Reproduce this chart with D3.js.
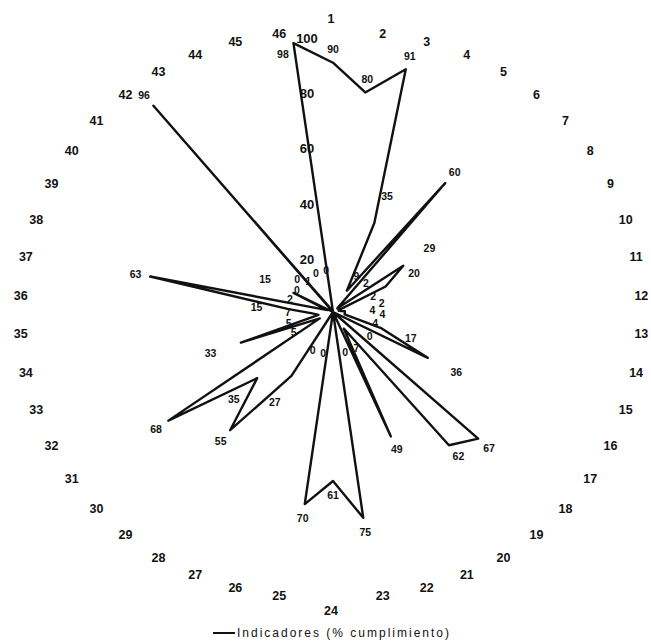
<!DOCTYPE html>
<html>
<head>
<meta charset="utf-8">
<script src="https://cdn.jsdelivr.net/npm/d3@7"></script>
<style>
  body { margin: 0; background: #fff; }
  svg { display: block; font-family: "Liberation Sans", Arial, sans-serif; }
</style>
</head>
<body>
<div id="chart"></div>
<script>
  // Categories (indicator numbers), clockwise from the top
  const categories = ['1', '2', '3', '4', '5', '6', '7', '8', '9', '10',
    '11', '12', '13', '14', '15', '16', '17', '18', '19', '20',
    '21', '22', '23', '24', '25', '26', '27', '28', '29', '30',
    '31', '32', '33', '34', '35', '36', '37', '38', '39', '40',
    '41', '42', '43', '44', '45', '46'];

  // % cumplimiento per indicator
  const values = [90, 80, 91, 35, 9, 60, 2, 29, 20, 2,
    2, 4, 4, 4, 17, 36, 0, 67, 62, 7,
    49, 0, 75, 61, 70, 0, 0, 27, 55, 35,
    68, 5, 33, 5, 7, 15, 63, 2, 15, 0,
    0, 96, 1, 0, 0, 98];

  const radialTicks = [20, 40, 60, 80, 100];
  const seriesName = 'Indicadores (% cumplimiento)';

  const width = 651, height = 643;
  const cx = 333, cy = 312;
  const stretchX = 1.07; // the scanned original is a little wider than tall

  const svg = d3.select('#chart')
    .append('svg')
    .attr('width', width)
    .attr('height', height);

  const r = d3.scaleLinear().domain([0, 100]).range([0, 277]);
  const angle = d3.scaleLinear().domain([0, categories.length]).range([0, 2 * Math.PI]);

  const px = (i, rad) => cx + stretchX * rad * Math.sin(angle(i));
  const py = (i, rad) => cy - rad * Math.cos(angle(i));

  // Series outline
  const line = d3.line()
    .x((d, i) => px(i, r(d)))
    .y((d, i) => py(i, r(d)))
    .curve(d3.curveLinearClosed);

  svg.append('path')
    .datum(values)
    .attr('d', line)
    .attr('fill', 'none')
    .attr('stroke', '#111')
    .attr('stroke-width', 2.4)
    .attr('stroke-linejoin', 'round');

  // Radial axis labels, left of the first spoke
  const tickX = cx - 26;
  const tickY = t => cy - r(t) + 3;
  svg.append('g')
    .selectAll('text')
    .data(radialTicks)
    .enter()
    .append('text')
    .attr('x', tickX)
    .attr('y', tickY)
    .attr('text-anchor', 'middle')
    .attr('dominant-baseline', 'central')
    .style('font-size', '13px')
    .style('font-weight', 'bold')
    .style('fill', '#111')
    .text(d => d);

  // Category labels round the outside (ring is flattened like the scan)
  const lcx = 331, lcy = 315, labelRx = 311, labelRy = 284;
  const labelX = i => {
    const s = Math.sin(angle(i));
    return lcx + labelRx * Math.sign(s) * Math.pow(Math.abs(s), 0.9);
  };
  const labelY = i => {
    const c = Math.cos(angle(i));
    const extra = Math.abs(c) > 0.999 ? 12 * Math.sign(c) : 0;
    return lcy - labelRy * c - extra;
  };

  svg.append('g')
    .selectAll('text')
    .data(categories)
    .enter()
    .append('text')
    .attr('x', (d, i) => labelX(i))
    .attr('y', (d, i) => labelY(i))
    .attr('text-anchor', 'middle')
    .attr('dominant-baseline', 'central')
    .style('font-size', '12.5px')
    .style('font-weight', 'bold')
    .style('fill', '#111')
    .text(d => d);

  // Value labels: preferred spot pushed outward from each point
  const labelRadius = v => v < 10 ? 42 : r(v) + (v < 40 ? 30 : 14);
  // near the top the outermost labels sit beside the point instead
  const crowded = (v, i) => labelRadius(v) > 270 && Math.abs(Math.cos(angle(i))) > 0.95;
  const valueX = (v, i) => crowded(v, i)
    ? px(i, 262) - 12 * Math.cos(angle(i))
    : px(i, labelRadius(v));
  const valueY = (v, i) => crowded(v, i)
    ? py(i, 262) - 12 * Math.sin(angle(i))
    : py(i, labelRadius(v));

  // small labels crowd round the centre, so let a collide force spread them
  const labelNodes = values.map((v, i) => ({
    text: String(v),
    tx: valueX(v, i),
    ty: valueY(v, i),
    x: valueX(v, i),
    y: valueY(v, i),
    rad: String(v).length > 1 ? 8 : 5.5
  }));
  const obstacles = radialTicks.map(t => ({
    fx: tickX, fy: tickY(t), x: tickX, y: tickY(t), tx: tickX, ty: tickY(t), rad: 11
  })).concat(categories.map((c, i) => ({
    fx: labelX(i), fy: labelY(i), x: labelX(i), y: labelY(i), tx: labelX(i), ty: labelY(i), rad: 9
  })));

  const sim = d3.forceSimulation(labelNodes.concat(obstacles))
    .force('x', d3.forceX(d => d.tx).strength(0.25))
    .force('y', d3.forceY(d => d.ty).strength(0.25))
    .force('collide', d3.forceCollide(d => d.rad).iterations(4))
    .stop();
  for (let k = 0; k < 300; k++) sim.tick();

  svg.append('g')
    .selectAll('text')
    .data(labelNodes)
    .enter()
    .append('text')
    .attr('x', d => d.x)
    .attr('y', d => d.y)
    .attr('text-anchor', 'middle')
    .attr('dominant-baseline', 'central')
    .style('font-size', '10.5px')
    .style('font-weight', 'bold')
    .style('fill', '#111')
    .text(d => d.text);

  // Legend
  const legend = svg.append('g').attr('transform', 'translate(213,633)');
  legend.append('line')
    .attr('x1', 0).attr('x2', 22)
    .attr('y1', 0).attr('y2', 0)
    .attr('stroke', '#111')
    .attr('stroke-width', 2);
  legend.append('text')
    .attr('x', 24)
    .attr('y', 0)
    .attr('dominant-baseline', 'central')
    .attr('textLength', 212)
    .attr('lengthAdjust', 'spacing')
    .style('font-size', '12px')
    .style('fill', '#111')
    .text(seriesName);
</script>
</body>
</html>
